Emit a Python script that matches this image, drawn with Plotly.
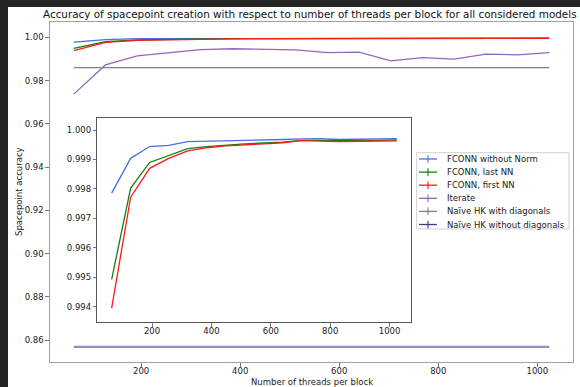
import plotly.graph_objects as go

# Threads per block (x values shared by all series)
threads = [64, 128, 192, 256, 320, 384, 448, 512, 576, 640, 704, 768, 832, 896, 960, 1024]

# Spacepoint accuracy per model
fconn_without_norm = [0.99786, 0.99904, 0.99944, 0.99948, 0.99961, 0.99962, 0.99964, 0.99964,
                      0.99967, 0.99968, 0.99970, 0.99971, 0.99968, 0.99968, 0.99970, 0.99971]
fconn_last_nn = [0.99493, 0.99803, 0.99890, 0.99913, 0.99937, 0.99944, 0.99949, 0.99953,
                 0.99956, 0.99959, 0.99965, 0.99965, 0.99964, 0.99964, 0.99965, 0.99967]
fconn_first_nn = [0.99395, 0.99772, 0.99870, 0.99904, 0.99929, 0.99940, 0.99946, 0.99950,
                  0.99954, 0.99957, 0.99964, 0.99962, 0.99961, 0.99962, 0.99963, 0.99963]
iterate = [0.9738, 0.9873, 0.9915, 0.9930, 0.9944, 0.9948, 0.9946, 0.9943,
           0.9930, 0.9932, 0.9892, 0.9907, 0.9900, 0.9923, 0.9920, 0.9930]
naive_hk_diag = [0.98605, 0.98605, 0.98605, 0.98605, 0.98605, 0.98605, 0.98605, 0.98605,
                 0.98605, 0.98605, 0.98605, 0.98605, 0.98605, 0.98605, 0.98605, 0.98605]
naive_hk_no_diag = [0.8568, 0.8568, 0.8568, 0.8568, 0.8568, 0.8568, 0.8568, 0.8568,
                    0.8568, 0.8568, 0.8568, 0.8568, 0.8568, 0.8568, 0.8568, 0.8568]

labels = ["FCONN without Norm", "FCONN, last NN", "FCONN, first NN", "Iterate",
          "Naïve HK with diagonals", "Naïve HK without diagonals"]
main_x_ticks = [200, 400, 600, 800, 1000]
main_y_ticks = [0.86, 0.88, 0.90, 0.92, 0.94, 0.96, 0.98, 1.00]
inset_y_ticks = [0.994, 0.995, 0.996, 0.997, 0.998, 0.999, 1.000]

W, H = 580, 387
FONT = "DejaVu Sans"


def px_x(v):
    return v / W


def px_y(v):
    return 1 - v / H


line_colors = ["#4a6fe3", "#138013", "#ff1a1a", "#9467bd", "#808080", "#9090c2"]
legend_colors = ["#4a6fe3", "#138013", "#ff1a1a", "#9467bd", "#808080", "#3b3b86"]
series = [fconn_without_norm, fconn_last_nn, fconn_first_nn, iterate, naive_hk_diag, naive_hk_no_diag]
widths = [1.3, 1.3, 1.3, 1.3, 1.3, 2.2]

fig = go.Figure()

# Main axes: every model
for name, ys, c, w in zip(labels, series, line_colors, widths):
    fig.add_trace(go.Scatter(x=threads, y=ys, mode="lines", name=name,
                             line=dict(color=c, width=w), showlegend=False,
                             xaxis="x", yaxis="y"))

# Inset: the three FCONN variants
for name, ys, c in zip(labels[:3], series[:3], line_colors[:3]):
    fig.add_trace(go.Scatter(x=threads, y=ys, mode="lines", name=name,
                             line=dict(color=c, width=1.3), showlegend=False,
                             xaxis="x2", yaxis="y2"))

axis_common = dict(showgrid=False, zeroline=False, showline=True, mirror=True,
                   ticks="outside", ticklen=3.5, tickwidth=1, tickcolor="#777",
                   tickfont=dict(family=FONT, size=8.5, color="#222"))

fig.update_layout(
    width=W, height=H,
    margin=dict(l=0, r=0, t=0, b=0),
    paper_bgcolor="white", plot_bgcolor="white",
    showlegend=False,
    xaxis=dict(domain=[px_x(50), px_x(573)], range=[16, 1072], tickvals=main_x_ticks,
               anchor="y", linecolor="#a0a0a0", linewidth=1.3, ticklabelstandoff=-3,
               **axis_common),
    yaxis=dict(domain=[px_y(362), px_y(22)], range=[0.84982, 1.00718], tickvals=main_y_ticks,
               tickformat=".2f", anchor="x", linecolor="#a0a0a0", linewidth=1.3, **axis_common),
    xaxis2=dict(domain=[px_x(97.4), px_x(411)], range=[16, 1072], tickvals=main_x_ticks,
                anchor="y2", linecolor="#555", linewidth=1, ticklabelstandoff=-3,
                **axis_common),
    yaxis2=dict(domain=[px_y(322.3), px_y(118)], range=[0.99347, 1.00041], tickvals=inset_y_ticks,
                tickformat=".3f", anchor="x2", linecolor="#555", linewidth=1, **axis_common),
)

annotations = [
    dict(text="Accuracy of spacepoint creation with respect to number of threads per block for all considered models",
         x=px_x(41), y=px_y(14), xref="paper", yref="paper", showarrow=False,
         xanchor="left", yanchor="middle", font=dict(family=FONT, size=10.4, color="#111")),
    dict(text="Number of threads per block", x=px_x(311.5), y=px_y(382), xref="paper", yref="paper",
         showarrow=False, xanchor="center", yanchor="middle", font=dict(family=FONT, size=8.5, color="#222")),
    dict(text="Spacepoint accuracy", x=px_x(19), y=px_y(192), xref="paper", yref="paper",
         showarrow=False, textangle=-90, xanchor="center", yanchor="middle",
         font=dict(family=FONT, size=8.5, color="#222")),
]

shapes = [
    # dark frame strips around the canvas
    dict(type="rect", xref="paper", yref="paper", x0=0, x1=px_x(8), y0=0, y1=1,
         fillcolor="#252526", line=dict(width=0), layer="above"),
    dict(type="rect", xref="paper", yref="paper", x0=0, x1=1, y0=px_y(7), y1=1,
         fillcolor="#252526", line=dict(width=0), layer="above"),
    # legend box
    dict(type="rect", xref="paper", yref="paper", x0=px_x(416.7), x1=px_x(569),
         y0=px_y(229), y1=px_y(152.7), fillcolor="white", line=dict(color="#d0d0d0", width=1),
         layer="above"),
]

row0, row_step = 159, 13.1
for i, (name, c) in enumerate(zip(labels, legend_colors)):
    yy = row0 + i * row_step
    shapes.append(dict(type="line", xref="paper", yref="paper", x0=px_x(419), x1=px_x(437),
                       y0=px_y(yy), y1=px_y(yy), line=dict(color=c, width=1.3), layer="above"))
    shapes.append(dict(type="line", xref="paper", yref="paper", x0=px_x(428), x1=px_x(428),
                       y0=px_y(yy - 3.8), y1=px_y(yy + 3.8), line=dict(color=c, width=1.1), layer="above"))
    annotations.append(dict(text=name, x=px_x(445), y=px_y(yy), xref="paper", yref="paper",
                            showarrow=False, xanchor="left", yanchor="middle",
                            font=dict(family=FONT, size=8.5, color="#222")))

fig.update_layout(annotations=annotations, shapes=shapes)

fig.write_html("out.html")
